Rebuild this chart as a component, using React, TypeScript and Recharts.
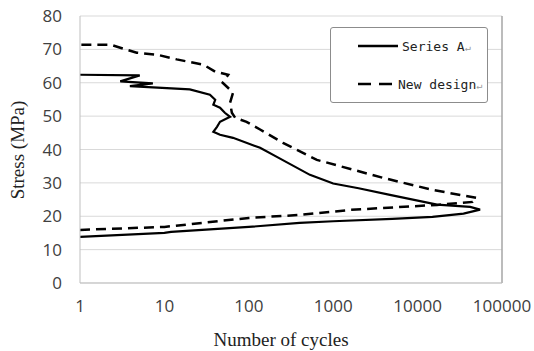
import React from "react";
import {
  LineChart,
  Line,
  XAxis,
  YAxis,
  CartesianGrid,
  ReferenceLine,
} from "recharts";

// Series A: lower branch out to the peak, then back up the upper branch
const seriesACycles = [
  1, 10, 12, 100, 400, 1000, 5000, 15000, 35000, 55000, 42000, 17000, 4700,
  2000, 1000, 530, 215, 136, 65, 45.6, 38, 42, 45.6, 60, 52, 45.6, 38, 40,
  34.6, 20, 3.9, 7.3, 3, 5.1, 1,
];
const seriesAStress = [
  13.8, 15, 15.3, 16.8, 18, 18.5, 19.2, 19.8, 20.8, 22, 22.8, 23.5, 26.4, 28.4,
  29.8, 32.4, 37.8, 40.5, 43.5, 44.4, 45.3, 46.8, 48.3, 49.8, 51, 52.5, 53.4,
  54.9, 56.4, 58, 59, 59.8, 60.4, 62.2, 62.4,
];

const newDesignCycles = [
  1, 10, 100, 400, 1600, 17000, 45000, 50000, 15000, 3900, 640, 254, 136, 94,
  69, 63, 60, 65, 60, 49, 57, 40, 29, 14, 8.2, 4.7, 3, 2.3, 1,
];
const newDesignStress = [
  15.9, 16.8, 19.5, 20.4, 21.9, 23.4, 24.3, 25.5, 27.9, 31.5, 36.9, 42, 46,
  48.3, 49.5, 51, 54, 57, 57.9, 60, 62.4, 63.3, 65.4, 67, 68.4, 69, 70.5, 71.4,
  71.4,
];

const xTicks = [1, 10, 100, 1000, 10000, 100000];
const yTicks = [0, 10, 20, 30, 40, 50, 60, 70, 80];

const seriesA = seriesACycles.map((x, i) => ({ x, y: seriesAStress[i] }));
const newDesign = newDesignCycles.map((x, i) => ({ x, y: newDesignStress[i] }));

const tickStyle = { fontFamily: "'Open Sans', sans-serif", fontSize: 17, fill: "#404040" };
const titleFont = "'Liberation Serif', serif";
const monoFont = "'DejaVu Sans Mono', monospace";

// legend drawn as an overlay box (a recharts Legend would eat plot space)
function LegendBox() {
  return (
    <div
      style={{
        position: "absolute",
        left: 330,
        top: 27,
        width: 158,
        height: 76,
        border: "1px solid #8c8c8c",
        borderRadius: 3,
        background: "#fff",
        boxSizing: "border-box",
      }}
    >
      <svg width={158} height={76} style={{ position: "absolute", left: -1, top: -1 }}>
        <line x1={28} x2={68} y1={19} y2={19} stroke="#000" strokeWidth={2.5} />
        <text x={72} y={24} fontFamily={monoFont} fontSize={13} fill="#222">
          Series A<tspan fill="#999" fontSize={10}>↵</tspan>
        </text>
        <line
          x1={28}
          x2={68}
          y1={57}
          y2={57}
          stroke="#000"
          strokeWidth={2.5}
          strokeDasharray="13 8"
        />
        <text x={68} y={62} fontFamily={monoFont} fontSize={13} fill="#222">
          New design<tspan fill="#999" fontSize={10}>↵</tspan>
        </text>
      </svg>
    </div>
  );
}

export default function App() {
  return (
    <div style={{ position: "absolute", left: 0, top: 0, width: 534, height: 351, background: "#fff" }}>
      <LineChart
        width={534}
        height={351}
        margin={{ top: 16, right: 32, bottom: 0, left: 0 }}
      >
        <CartesianGrid vertical={false} stroke="#d9d9d9" />
        <XAxis
          dataKey="x"
          type="number"
          scale="log"
          domain={[1, 100000]}
          ticks={xTicks}
          allowDataOverflow
          stroke="#bfbfbf"
          tickLine={false}
          tickSize={0}
          tickMargin={17}
          tick={tickStyle}
          interval={0}
          height={68}
          label={{
            content: () => (
              <text
                x={281}
                y={346}
                textAnchor="middle"
                fontFamily={titleFont}
                fontSize={19}
                fill="#222"
              >
                Number of cycles
              </text>
            ),
          }}
        />
        <YAxis
          dataKey="y"
          type="number"
          domain={[0, 80]}
          ticks={yTicks}
          width={80}
          stroke="#bfbfbf"
          tickLine={false}
          tickSize={0}
          tickMargin={18}
          tick={tickStyle}
          interval={0}
          label={{
            content: () => (
              <text
                x={24}
                y={150}
                transform="rotate(-90 24 150)"
                textAnchor="middle"
                fontFamily={titleFont}
                fontSize={19}
                fill="#222"
              >
                Stress (MPa)
              </text>
            ),
          }}
        />
        <ReferenceLine x={100000} stroke="#a6a6a6" strokeWidth={1.5} />
        <Line
          data={seriesA}
          dataKey="y"
          name="Series A"
          type="linear"
          stroke="#000"
          strokeWidth={2.2}
          dot={false}
          isAnimationActive={false}
        />
        <Line
          data={newDesign}
          dataKey="y"
          name="New design"
          type="linear"
          stroke="#000"
          strokeWidth={2.5}
          strokeDasharray="10 6"
          dot={false}
          isAnimationActive={false}
        />
      </LineChart>
      <LegendBox />
    </div>
  );
}
